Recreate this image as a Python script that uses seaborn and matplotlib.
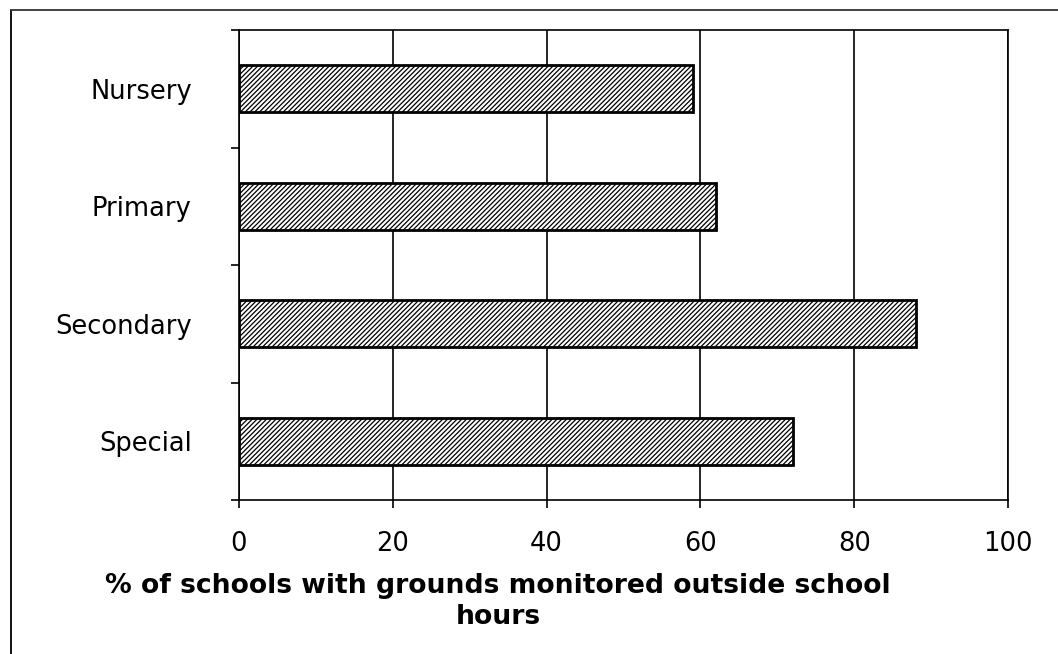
import matplotlib
matplotlib.use("Agg")
import matplotlib.pyplot as plt
from matplotlib.lines import Line2D
import seaborn as sns
import pandas as pd

categories = ["Nursery", "Primary", "Secondary", "Special"]
values = [59, 62, 88, 72]
x_ticks = [0, 20, 40, 60, 80, 100]
x_label = "% of schools with grounds monitored outside school\nhours"

sns.set_theme(style="white")
plt.rcParams["font.family"] = ["DejaVu Sans"]
plt.rcParams["hatch.linewidth"] = 0.9
plt.rcParams["hatch.color"] = "black"
plt.rcParams["text.color"] = "black"
plt.rcParams["axes.labelcolor"] = "black"
plt.rcParams["xtick.color"] = "black"
plt.rcParams["ytick.color"] = "black"

df = pd.DataFrame({"cat": categories, "val": values})

W, H = 1058, 654
fig = plt.figure(figsize=(W / 100, H / 100), dpi=100)
fig.patch.set_facecolor("white")
ax = fig.add_axes([239 / W, 1 - 500 / H, (1008 - 239) / W, (500 - 30) / H])

sns.barplot(data=df, x="val", y="cat", orient="h", color="white",
            edgecolor="black", linewidth=2.0, hatch="///////", width=0.40,
            saturation=1, ax=ax, zorder=3)

ax.set_xlim(0, 100)
ax.set_ylim(3.5, -0.5)
ax.set_xticks(x_ticks)
ax.set_xticklabels([str(t) for t in x_ticks], fontsize=18.5)
ax.xaxis.grid(True, color="black", linewidth=1.2, zorder=0)
ax.set_axisbelow(True)

ax.set_yticks([-0.5, 0.5, 1.5, 2.5, 3.5])
ax.set_yticklabels([""] * 5)
ax.set_yticks([0, 1, 2, 3], minor=True)
ax.set_yticklabels(categories, minor=True, fontsize=18.5)
ax.tick_params(axis="y", which="major", direction="out", length=6, width=1.2,
               color="black", left=True)
ax.tick_params(axis="y", which="minor", length=0, pad=34)
ax.tick_params(axis="x", which="major", direction="out", length=6, width=1.2,
               color="black", bottom=True, pad=16)

for s in ax.spines.values():
    s.set_visible(True)
    s.set_color("black")
    s.set_linewidth(1.2)

ax.set_ylabel("")
ax.set_xlabel(x_label, fontsize=19.2, fontweight="bold", linespacing=1.25)
ax.xaxis.set_label_coords((498 - 239) / (1008 - 239), -0.155)
ax.xaxis.label.set_va("top")

# outer frame lines
fig.add_artist(Line2D([11 / W, 11 / W], [0, 1 - 10 / H], transform=fig.transFigure,
                      color="black", linewidth=1.3))
fig.add_artist(Line2D([11 / W, 1], [1 - 10 / H, 1 - 10 / H], transform=fig.transFigure,
                      color="#333333", linewidth=1.3))

fig.savefig("out.png", dpi=100)
